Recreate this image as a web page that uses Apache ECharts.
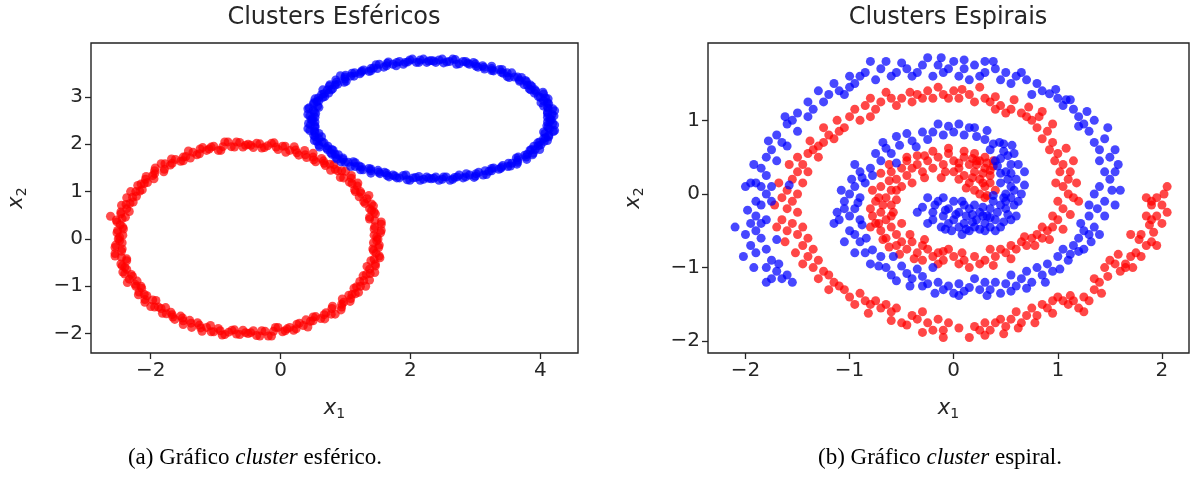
<!DOCTYPE html>
<html><head><meta charset="utf-8">
<script src="https://cdn.jsdelivr.net/npm/echarts@6/dist/echarts.min.js"></script>
<style>html,body{margin:0;padding:0;background:#fff}#c{width:1194px;height:483px}</style>
</head><body><div id="c"></div>
<script>
// ---- Clusters Esféricos ----
const sphereRed = [
[1.50,0.00],[1.44,0.08],[1.55,0.18],[1.45,0.26],[1.55,0.36],[1.37,0.42],[1.46,0.53],[1.40,0.60],[1.43,0.70],[1.30,0.75],[1.33,0.85],[1.21,0.89],[1.23,1.00],[1.14,1.04],[1.19,1.18],[1.06,1.20],[1.09,1.34],[0.92,1.30],[0.94,1.44],[0.84,1.47],[0.82,1.57],[0.69,1.55],[0.66,1.65],[0.54,1.63],[0.50,1.73],[0.40,1.72],[0.37,1.87],[0.25,1.82],[0.21,1.95],[0.08,1.83],[0.03,1.96],[-0.07,1.94],[-0.14,2.02],[-0.25,1.93],[-0.32,2.01],[-0.42,1.93],
[-0.50,2.00],[-0.58,1.94],[-0.68,2.05],[-0.76,1.95],[-0.86,2.05],[-0.92,1.87],[-1.03,1.96],[-1.10,1.90],[-1.20,1.93],[-1.25,1.80],[-1.35,1.83],[-1.39,1.71],[-1.50,1.73],[-1.54,1.64],[-1.68,1.69],[-1.70,1.56],[-1.84,1.59],[-1.80,1.42],[-1.94,1.44],[-1.97,1.34],[-2.07,1.32],[-2.05,1.19],[-2.15,1.16],[-2.13,1.04],[-2.23,1.00],[-2.22,0.90],[-2.37,0.87],[-2.32,0.75],[-2.45,0.71],[-2.33,0.58],[-2.46,0.53],[-2.44,0.43],[-2.52,0.36],[-2.43,0.25],[-2.51,0.18],[-2.43,0.08],
[-2.50,0.00],[-2.44,-0.08],[-2.55,-0.18],[-2.45,-0.26],[-2.55,-0.36],[-2.37,-0.42],[-2.46,-0.53],[-2.40,-0.60],[-2.43,-0.70],[-2.30,-0.75],[-2.33,-0.85],[-2.21,-0.89],[-2.23,-1.00],[-2.14,-1.04],[-2.19,-1.18],[-2.06,-1.20],[-2.09,-1.34],[-1.92,-1.30],[-1.94,-1.44],[-1.84,-1.47],[-1.82,-1.57],[-1.69,-1.55],[-1.66,-1.65],[-1.54,-1.63],[-1.50,-1.73],[-1.40,-1.72],[-1.37,-1.87],[-1.25,-1.82],[-1.21,-1.95],[-1.08,-1.83],[-1.03,-1.96],[-0.93,-1.94],[-0.86,-2.02],[-0.75,-1.93],[-0.68,-2.01],[-0.58,-1.93],
[-0.50,-2.00],[-0.42,-1.94],[-0.32,-2.05],[-0.24,-1.95],[-0.14,-2.05],[-0.08,-1.87],[0.03,-1.96],[0.10,-1.90],[0.20,-1.93],[0.25,-1.80],[0.35,-1.83],[0.39,-1.71],[0.50,-1.73],[0.54,-1.64],[0.68,-1.69],[0.70,-1.56],[0.84,-1.59],[0.80,-1.42],[0.94,-1.44],[0.97,-1.34],[1.07,-1.32],[1.05,-1.19],[1.15,-1.16],[1.13,-1.04],[1.23,-1.00],[1.22,-0.90],[1.37,-0.87],[1.32,-0.75],[1.45,-0.71],[1.33,-0.58],[1.46,-0.53],[1.44,-0.43],[1.52,-0.36],[1.43,-0.25],[1.51,-0.18],[1.43,-0.08],
[1.48,0.04],[1.54,0.13],[1.44,0.21],[1.55,0.31],[1.45,0.39],[1.37,0.46],[1.44,0.57],[1.37,0.64],[1.40,0.74],[1.28,0.79],[1.36,0.92],[1.24,0.96],[1.15,1.00],[1.18,1.12],[1.10,1.17],[1.09,1.28],[0.97,1.29],[1.00,1.43],[0.88,1.44],[0.77,1.45],[0.76,1.58],[0.67,1.60],[0.63,1.70],[0.51,1.67],[0.50,1.81],[0.38,1.78],[0.28,1.77],[0.23,1.88],[0.14,1.87],[0.07,1.96],[-0.04,1.89],[-0.10,2.03],[-0.20,1.97],[-0.29,1.92],[-0.37,2.02],[-0.46,1.98],
[-0.54,1.98],[-0.63,2.04],[-0.71,1.94],[-0.81,2.05],[-0.89,1.95],[-0.96,1.87],[-1.07,1.94],[-1.14,1.87],[-1.24,1.90],[-1.29,1.78],[-1.42,1.86],[-1.46,1.74],[-1.50,1.65],[-1.62,1.68],[-1.67,1.60],[-1.78,1.59],[-1.79,1.47],[-1.93,1.50],[-1.94,1.38],[-1.95,1.27],[-2.08,1.26],[-2.10,1.17],[-2.20,1.13],[-2.17,1.01],[-2.31,1.00],[-2.28,0.88],[-2.27,0.78],[-2.38,0.73],[-2.37,0.64],[-2.46,0.57],[-2.39,0.46],[-2.53,0.40],[-2.47,0.30],[-2.42,0.21],[-2.52,0.13],[-2.48,0.04],
[-2.48,-0.04],[-2.54,-0.13],[-2.44,-0.21],[-2.55,-0.31],[-2.45,-0.39],[-2.37,-0.46],[-2.44,-0.57],[-2.37,-0.64],[-2.40,-0.74],[-2.28,-0.79],[-2.36,-0.92],[-2.24,-0.96],[-2.15,-1.00],[-2.18,-1.12],[-2.10,-1.17],[-2.09,-1.28],[-1.97,-1.29],[-2.00,-1.43],[-1.88,-1.44],[-1.77,-1.45],[-1.76,-1.58],[-1.67,-1.60],[-1.63,-1.70],[-1.51,-1.67],[-1.50,-1.81],[-1.38,-1.78],[-1.28,-1.77],[-1.23,-1.88],[-1.14,-1.87],[-1.07,-1.96],[-0.96,-1.89],[-0.90,-2.03],[-0.80,-1.97],[-0.71,-1.92],[-0.63,-2.02],[-0.54,-1.98],
[-0.46,-1.98],[-0.37,-2.04],[-0.29,-1.94],[-0.19,-2.05],[-0.11,-1.95],[-0.04,-1.87],[0.07,-1.94],[0.14,-1.87],[0.24,-1.90],[0.29,-1.78],[0.42,-1.86],[0.46,-1.74],[0.50,-1.65],[0.62,-1.68],[0.67,-1.60],[0.78,-1.59],[0.79,-1.47],[0.93,-1.50],[0.94,-1.38],[0.95,-1.27],[1.08,-1.26],[1.10,-1.17],[1.20,-1.13],[1.17,-1.01],[1.31,-1.00],[1.28,-0.88],[1.27,-0.78],[1.38,-0.73],[1.37,-0.64],[1.46,-0.57],[1.39,-0.46],[1.53,-0.40],[1.47,-0.30],[1.42,-0.21],[1.52,-0.13],[1.48,-0.04],
[-2.62,0.48]
];
const sphereBlue = [
[2.32,3.77],[2.39,3.73],[2.49,3.80],[2.56,3.74],[2.65,3.80],[2.71,3.69],[2.81,3.75],[2.88,3.71],[2.97,3.73],[3.01,3.65],[3.11,3.66],[3.14,3.59],[3.25,3.60],[3.28,3.55],[3.41,3.58],[3.43,3.50],[3.56,3.51],[3.52,3.41],[3.65,3.42],[3.68,3.36],[3.77,3.35],[3.75,3.26],[3.85,3.25],[3.83,3.17],[3.92,3.15],[3.91,3.08],[4.05,3.06],[4.00,2.99],[4.12,2.96],[4.01,2.88],[4.13,2.85],[4.11,2.79],[4.19,2.75],[4.11,2.68],[4.18,2.63],[4.11,2.57],
[0.47,2.52],[0.53,2.57],[0.42,2.63],[0.52,2.68],[0.42,2.75],[0.59,2.78],[0.51,2.85],[0.56,2.90],[0.53,2.96],[0.65,2.99],[0.63,3.05],[0.74,3.08],[0.72,3.15],[0.80,3.17],[0.76,3.26],[0.88,3.27],[0.85,3.36],[1.01,3.33],[0.99,3.42],[1.08,3.44],[1.10,3.50],[1.22,3.49],[1.25,3.55],[1.36,3.54],[1.39,3.60],[1.49,3.60],[1.52,3.69],[1.63,3.66],[1.66,3.74],[1.78,3.66],[1.83,3.75],[1.92,3.73],[1.99,3.78],[2.09,3.73],[2.15,3.78],[2.25,3.73],
[2.32,1.27],[2.25,1.31],[2.15,1.24],[2.08,1.30],[1.99,1.24],[1.93,1.35],[1.83,1.29],[1.76,1.33],[1.67,1.31],[1.63,1.39],[1.53,1.38],[1.50,1.45],[1.39,1.44],[1.36,1.49],[1.23,1.46],[1.21,1.54],[1.08,1.53],[1.12,1.63],[0.99,1.62],[0.96,1.68],[0.87,1.69],[0.89,1.78],[0.79,1.79],[0.81,1.87],[0.72,1.89],[0.73,1.96],[0.59,1.98],[0.64,2.05],[0.52,2.08],[0.63,2.16],[0.51,2.19],[0.53,2.25],[0.45,2.29],[0.53,2.36],[0.46,2.41],[0.53,2.47],
[4.17,2.52],[4.11,2.47],[4.22,2.41],[4.12,2.36],[4.22,2.29],[4.05,2.26],[4.13,2.19],[4.08,2.14],[4.11,2.08],[3.99,2.05],[4.01,1.99],[3.90,1.96],[3.92,1.89],[3.84,1.87],[3.88,1.78],[3.76,1.77],[3.79,1.68],[3.63,1.71],[3.65,1.62],[3.56,1.60],[3.54,1.54],[3.42,1.55],[3.39,1.49],[3.28,1.50],[3.25,1.44],[3.15,1.44],[3.12,1.35],[3.01,1.38],[2.98,1.30],[2.86,1.38],[2.81,1.29],[2.72,1.31],[2.65,1.26],[2.55,1.31],[2.49,1.26],[2.39,1.31],
[4.15,2.55],[4.21,2.60],[4.11,2.65],[4.22,2.71],[4.12,2.76],[4.05,2.81],[4.11,2.88],[4.05,2.92],[4.08,2.98],[3.97,3.01],[4.04,3.10],[3.93,3.12],[3.85,3.15],[3.87,3.22],[3.80,3.25],[3.79,3.32],[3.68,3.33],[3.71,3.41],[3.60,3.42],[3.49,3.43],[3.49,3.51],[3.40,3.52],[3.37,3.58],[3.25,3.56],[3.25,3.65],[3.13,3.63],[3.04,3.63],[3.00,3.70],[2.91,3.69],[2.85,3.75],[2.75,3.70],[2.69,3.79],[2.60,3.75],[2.51,3.72],[2.44,3.78],[2.36,3.76],
[2.28,3.76],[2.20,3.80],[2.13,3.73],[2.03,3.80],[1.96,3.74],[1.89,3.69],[1.79,3.73],[1.73,3.69],[1.64,3.71],[1.59,3.63],[1.47,3.68],[1.43,3.61],[1.39,3.55],[1.28,3.57],[1.24,3.52],[1.14,3.51],[1.13,3.44],[1.00,3.46],[0.99,3.38],[0.98,3.31],[0.86,3.31],[0.84,3.25],[0.75,3.23],[0.78,3.15],[0.65,3.15],[0.67,3.07],[0.68,3.01],[0.58,2.98],[0.59,2.92],[0.51,2.88],[0.57,2.81],[0.44,2.77],[0.50,2.71],[0.54,2.65],[0.45,2.60],[0.49,2.55],
[0.49,2.49],[0.43,2.44],[0.53,2.39],[0.42,2.33],[0.52,2.28],[0.59,2.23],[0.53,2.16],[0.59,2.12],[0.56,2.06],[0.67,2.03],[0.60,1.94],[0.71,1.92],[0.79,1.89],[0.77,1.82],[0.84,1.79],[0.85,1.72],[0.96,1.71],[0.93,1.63],[1.04,1.62],[1.15,1.61],[1.15,1.53],[1.24,1.52],[1.27,1.46],[1.39,1.48],[1.39,1.39],[1.51,1.41],[1.60,1.41],[1.64,1.34],[1.73,1.35],[1.79,1.29],[1.89,1.34],[1.95,1.25],[2.04,1.29],[2.13,1.32],[2.20,1.26],[2.28,1.28],
[2.36,1.28],[2.44,1.24],[2.51,1.31],[2.61,1.24],[2.68,1.30],[2.75,1.35],[2.85,1.31],[2.91,1.35],[3.00,1.33],[3.05,1.41],[3.17,1.36],[3.21,1.43],[3.25,1.49],[3.36,1.47],[3.40,1.52],[3.50,1.53],[3.51,1.60],[3.64,1.58],[3.65,1.66],[3.66,1.73],[3.78,1.73],[3.80,1.79],[3.89,1.81],[3.86,1.89],[3.99,1.89],[3.97,1.97],[3.96,2.03],[4.06,2.06],[4.05,2.12],[4.13,2.16],[4.07,2.23],[4.20,2.27],[4.14,2.33],[4.10,2.39],[4.19,2.44],[4.15,2.49],
[0.92,3.45]
];
// ---- Clusters Espirais ----
const spiralRed = [
[0.20,0.05],[0.15,0.15],[0.25,0.20],[0.30,0.10],[0.10,0.25],[0.20,0.30],[0.30,0.35],[0.25,0.45],[0.15,0.40],[0.05,0.35],[0.10,0.50],[0.00,0.45],[-0.05,0.55],[-0.10,0.40],[-0.15,0.50],[-0.20,0.35],[-0.25,0.45],[-0.30,0.30],[-0.35,0.40],[-0.40,0.35],[-0.45,0.25],[-0.50,0.35],[-0.55,0.20],[-0.60,0.30],[-0.50,0.10],[-0.60,0.05],[-0.70,0.10],[-0.65,-0.05],[-0.75,-0.10],[-0.60,-0.15],[-0.70,-0.25],[-0.65,-0.35],[-0.75,-0.40],[-0.60,-0.45],[-0.70,-0.50],[-0.55,-0.55],[-0.65,-0.60],[-0.50,-0.65],[-0.55,-0.70],[-0.45,-0.75],[-0.40,-0.65],[-0.35,-0.80],[-0.30,-0.70],[-0.25,-0.75],[-0.20,-0.85],[-0.15,-0.80],[-0.10,-0.90],[0.00,-0.85],[0.05,-0.95],[-0.05,-0.75],[0.35,0.25],[0.40,0.05],[0.30,-0.05],[0.35,0.15],[0.05,0.20],[-0.40,0.15],[-0.78,-0.30],[-0.50,-0.40],[0.30,0.50],[0.20,0.55],
[0.28,0.28],[0.12,0.08],[0.22,0.40],[-0.08,0.30],[-0.28,0.52],[-0.45,0.45],[-0.62,0.40],[-0.55,0.05],[-0.68,-0.15],[-0.80,-0.20],[-0.72,-0.40],[-0.60,-0.30],[-0.62,-0.72],[-0.38,-0.88],[-0.28,-0.62],[-0.10,-0.78],[0.08,-0.80],[0.38,0.38],[0.32,-0.02],[0.18,0.48],
[-0.45,0.50],[-0.35,0.52],[-0.20,0.58],[-0.05,0.62],[0.10,0.58],[0.22,0.45],[0.32,0.42],[0.35,0.32],[0.28,0.15],[0.18,0.22],[0.05,0.42],[-0.12,0.22],[-0.28,0.22],[-0.55,-0.08],[-0.58,-0.25],[-0.72,-0.05],[-0.80,-0.45],[-0.68,-0.62],[-0.52,-0.82],[-0.42,-0.55],[-0.30,-0.90],[-0.15,-0.95],[0.25,0.00],[0.38,0.45],[-0.62,0.18],[-0.70,0.28],[-0.78,0.05],[0.00,0.30],
[0.10,-0.90],[0.20,-0.85],[0.25,-0.95],[0.30,-0.90],[0.40,-0.85],[0.35,-0.75],[0.45,-0.75],[0.50,-0.80],[0.55,-0.70],[0.60,-0.75],[0.65,-0.65],[0.70,-0.70],[0.75,-0.60],[0.80,-0.55],[0.85,-0.60],[0.90,-0.50],[0.95,-0.45],[0.85,-0.45],[1.00,-0.35],[0.95,-0.30],[1.05,-0.20],[1.00,-0.10],[1.10,0.00],[1.05,0.10],[0.98,0.15],[1.10,0.20],[1.02,0.30],[1.05,0.40],[0.97,0.45],[1.00,0.55],[0.92,0.60],[0.95,0.70],[0.85,0.75],[0.90,0.85],[0.80,0.90],[0.75,1.00],[0.70,1.05],[0.82,1.05],[1.15,-0.05],[1.12,0.30],[1.18,0.15],
[0.15,-1.00],[0.38,-0.97],[0.55,-0.88],[0.68,-0.58],[0.78,-0.70],[0.92,-0.62],[1.05,-0.48],[1.12,-0.28],[1.20,-0.10],[1.15,0.45],[1.08,0.62],[0.95,0.95],[0.85,1.12],[0.72,1.18],[0.58,1.28],[0.40,1.32],[0.25,1.45],[0.08,1.42],[-0.15,1.45],[-0.42,1.38],[-0.65,1.38],[-0.80,1.30],[-0.95,1.15],[-1.12,1.00],[-1.25,0.90],[-1.38,0.72],[-1.50,0.50],[-1.58,0.40],[-1.68,0.15],[-1.72,-0.15],[-1.70,-0.45],[-1.62,-0.65],[-1.52,-0.80],[-1.45,-0.95],[-1.30,-1.15],[-1.20,-1.30],[-0.95,-1.50],[-0.82,-1.62],[-0.60,-1.72],[-0.45,-1.78],[-0.30,-1.88],[-0.10,-1.95],[0.05,-1.82],
[0.65,1.10],[0.55,1.15],[0.50,1.10],[0.45,1.20],[0.40,1.15],[0.35,1.25],[0.30,1.30],[0.20,1.25],[0.15,1.35],[0.05,1.30],[0.00,1.40],[-0.05,1.30],[-0.10,1.35],[-0.20,1.30],[-0.25,1.40],[-0.30,1.30],[-0.35,1.35],[-0.40,1.25],[-0.50,1.30],[-0.55,1.20],[-0.60,1.30],[-0.70,1.25],[-0.75,1.15],[-0.80,1.05],[-0.85,1.20],[-0.90,1.00],[-1.00,1.05],[-1.05,0.90],[-1.10,0.85],[-1.15,0.75],[-1.20,0.80],[-1.25,0.70],[-1.30,0.65],[-1.35,0.60],[-1.40,0.55],[-1.30,0.50],[-1.45,0.40],[-1.40,0.30],[-1.50,0.30],[-1.55,0.20],[-1.45,0.15],[-1.60,0.05],[-1.50,0.00],[-1.65,-0.05],[-1.55,-0.10],[-1.60,-0.20],[-1.50,-0.25],[-1.65,-0.35],[-1.55,-0.40],[-1.45,-0.45],[-1.60,-0.50],[-1.50,-0.55],[-1.40,-0.60],[-1.45,-0.70],[-1.35,-0.75],[-1.40,-0.85],[-1.30,-0.90],[-1.35,-1.00],[-1.25,-1.05],[-1.20,-1.10],[-1.15,-1.20],[-1.10,-1.25],[-1.05,-1.30],[-1.00,-1.40],[-0.90,-1.35],[-0.85,-1.45],[-0.80,-1.50],[-0.75,-1.45],[-0.70,-1.55],[-0.65,-1.50],[-0.60,-1.60],[-0.55,-1.55],[-0.50,-1.75],[-0.40,-1.65],[-0.35,-1.70],[-0.30,-1.60],[-0.25,-1.75],[-0.20,-1.85],[-0.15,-1.70],[-0.10,-1.85],[-0.05,-1.75],
[0.15,-1.95],[0.20,-1.80],[0.25,-1.85],[0.30,-1.75],[0.35,-1.85],[0.40,-1.75],[0.45,-1.70],[0.50,-1.80],[0.55,-1.70],[0.60,-1.60],[0.65,-1.75],[0.70,-1.65],[0.75,-1.55],[0.80,-1.65],[0.85,-1.50],[0.90,-1.55],[0.95,-1.45],[1.00,-1.40],[1.05,-1.45],[1.10,-1.50],[1.15,-1.45],[1.20,-1.55],[1.25,-1.40],[1.30,-1.45],[1.35,-1.30],[1.40,-1.20],[1.35,-1.15],[1.45,-1.00],[1.50,-0.90],[1.55,-0.95],[1.60,-1.05],[1.65,-0.95],[1.70,-0.85],[1.75,-0.80],[1.70,-0.55],[1.80,-0.55],[1.85,-0.70],[1.90,-0.65],[1.95,-0.70],[1.85,-0.30],[1.90,-0.35],[1.95,-0.30],[2.00,-0.40],[2.05,-0.25],[1.85,-0.05],[1.90,-0.10],[1.95,-0.05],[2.05,0.10],[1.90,-0.15],[1.65,-1.00],
[0.30,-1.92],[0.48,-1.90],[0.62,-1.82],[0.78,-1.75],[0.95,-1.62],[1.12,-1.38],[1.25,-1.60],[1.42,-1.35],[1.48,-1.12],[1.58,-0.82],[1.72,-1.00],[1.80,-0.85],[1.92,-0.52],[2.00,-0.15],[1.78,-0.62],[1.88,-0.42],[2.02,0.00]
];
const spiralBlue = [
[-0.30,-0.18],[-0.20,-0.25],[-0.15,-0.10],[-0.10,-0.30],[-0.05,-0.20],[0.00,-0.35],[0.05,-0.25],[0.10,-0.40],[0.12,-0.30],[0.15,-0.20],[0.20,-0.45],[0.22,-0.35],[0.25,-0.25],[0.30,-0.40],[0.32,-0.30],[0.35,-0.20],[0.40,-0.35],[0.42,-0.25],[0.45,-0.15],[0.05,-0.45],[-0.05,-0.40],[0.15,-0.50],[0.25,-0.48],[-0.20,-0.35],[-0.10,-0.05],[0.00,-0.10],[0.50,-0.20],[0.48,-0.05],[0.35,-0.45],[0.45,-0.45],[0.55,-0.35],[0.10,-0.15],[-0.25,-0.05],[0.20,-0.15],[0.38,-0.10],[-0.12,-0.45],[0.30,-0.50],[0.60,-0.30],
[-0.35,-0.25],[-0.25,-0.40],[-0.02,-0.50],[0.08,-0.55],[0.18,-0.28],[0.28,-0.18],[0.40,-0.50],[0.52,-0.28],[0.58,-0.15],[0.68,0.12],[0.62,0.40],[0.52,0.52],[0.58,0.55],
[-0.18,-0.15],[-0.08,-0.22],[0.02,-0.28],[0.08,-0.10],[0.18,-0.38],[0.28,-0.30],[0.35,-0.32],[0.48,-0.38],[0.50,-0.10],[0.55,-0.05],[0.58,0.05],[0.52,0.20],[0.45,0.28],[0.55,0.28],[0.40,0.45],[0.35,0.60],[0.48,0.68],[0.12,-0.48],[-0.08,-0.48],[0.38,-0.02],
[0.50,0.00],[0.55,0.10],[0.45,0.15],[0.60,0.20],[0.50,0.30],[0.42,0.38],[0.55,0.40],[0.45,0.48],[0.48,0.58],[0.38,0.68],[0.22,0.78],[0.30,0.74],[0.68,0.30],[0.65,0.00],[0.62,-0.10],
[0.10,0.80],[0.00,0.84],[-0.05,0.92],[-0.10,0.80],[0.05,0.95],[-0.20,0.84],[-0.25,0.74],[-0.30,0.84],[-0.40,0.72],[-0.45,0.82],[-0.52,0.66],[0.15,0.90],[0.32,0.86],[0.44,0.70],[-0.36,0.64],[0.56,0.66],
[0.20,0.90],[-0.15,0.95],[-0.55,0.78],[-0.68,0.70],[-0.75,0.55],[-0.95,0.40],[-1.08,0.05],[-1.12,-0.25],[-1.05,-0.65],[-0.95,-0.80],[-0.72,-0.98],[-0.55,-1.18],[-0.42,-1.25],[-0.18,-1.35],[0.05,-1.38],[0.32,-1.38],[0.55,-1.32],[0.70,-1.28],[0.88,-1.20],[1.02,-1.02],
[-0.60,0.55],[-0.70,0.45],[-0.65,0.62],[-0.80,0.35],[-0.78,0.25],[-0.90,0.30],[-0.85,0.15],[-0.95,0.10],[-1.00,0.00],[-0.90,-0.05],[-1.05,-0.10],[-0.95,-0.20],[-1.00,-0.30],[-1.10,-0.35],[-0.90,-0.35],[-0.88,-0.42],[-1.00,-0.50],[-0.84,-0.60],[-0.90,-0.65],[-0.78,-0.76],[-0.85,-0.80],[-0.70,-0.85],[-0.80,-0.95],[-1.05,-0.20],[-0.98,0.20],[-0.88,0.22],[-0.55,0.42],[-0.92,-0.12],[-0.95,-0.55],[-1.15,-0.40],
[-0.65,-1.00],[-0.60,-1.10],[-0.50,-0.98],[-0.45,-1.08],[-0.40,-1.15],[-0.35,-1.02],[-0.30,-1.12],[-0.25,-1.22],[-0.15,-1.20],[-0.10,-1.30],[-0.05,-1.25],[0.00,-1.35],[0.05,-1.22],[0.15,-1.27],[0.20,-1.15],[0.25,-1.30],[0.30,-1.20],[0.35,-1.30],[0.45,-1.35],[0.40,-1.20],[0.50,-1.22],[0.55,-1.10],[0.60,-1.25],[0.65,-1.15],[0.70,-1.05],[0.75,-1.20],[0.80,-1.00],[0.85,-1.10],[0.90,-0.95],[0.95,-1.05],[-0.58,-0.85],[-0.30,-1.25],[0.10,-1.32],[-0.20,-1.00],
[1.00,-0.85],[1.05,-0.75],[1.10,-0.90],[1.15,-0.70],[1.20,-0.60],[1.25,-0.50],[1.22,-0.40],[1.30,-0.30],[1.35,-0.45],[1.25,-0.75],[1.30,-0.15],[1.35,0.00],[1.40,0.10],[1.45,-0.10],[1.50,0.20],[1.55,0.30],[1.45,0.30],[1.40,0.45],[1.50,0.50],[1.40,0.60],[1.35,0.70],[1.45,0.75],[1.30,0.85],[1.25,0.95],[1.20,1.05],[1.35,1.00],[1.15,1.15],[1.20,0.92],[1.05,1.20],[1.00,1.30],[1.08,1.28],[0.92,1.36],[0.85,1.40],[0.80,1.50],[0.75,1.35],[1.55,-0.15],[1.60,0.05],[1.45,-0.30],[1.30,-0.55],
[1.12,-0.82],[1.20,-0.78],[1.32,-0.65],[1.40,-0.55],[1.38,-0.20],[1.52,0.05],[1.58,0.40],[1.55,0.60],[1.48,0.90],[1.28,1.12],[1.12,1.28],[0.98,1.42],[0.65,1.65],[0.38,1.80],[0.10,1.82],[-0.12,1.85],[-0.50,1.78],[-0.65,1.80],[-1.00,1.60],[-1.15,1.50],[-1.40,1.25],[-1.62,1.05],[-1.78,0.72],[-1.92,0.40],[-2.00,0.10],[-1.98,-0.22],[-2.02,-0.85],[-1.92,-1.00],[-1.68,-0.95],[-1.55,-1.20],[-1.70,-0.62],
[0.70,1.55],[0.60,1.60],[0.50,1.65],[0.45,1.55],[0.40,1.70],[0.30,1.65],[0.20,1.75],[0.25,1.60],[0.10,1.70],[0.05,1.60],[0.00,1.80],[-0.05,1.70],[-0.10,1.65],[-0.15,1.75],[-0.20,1.60],[-0.30,1.75],[-0.35,1.65],[-0.40,1.60],[-0.45,1.70],[-0.55,1.65],[-0.60,1.60],[-0.70,1.70],[-0.75,1.55],[-0.80,1.80],[-0.85,1.65],[-0.95,1.50],[-0.90,1.60],[-1.00,1.45],[-1.05,1.35],[-1.10,1.40],[-1.20,1.35],[-1.30,1.40],[-1.25,1.25],[0.30,1.80],[-0.25,1.85],[0.55,1.50],[0.15,1.55],
[-1.35,1.15],[-1.40,1.05],[-1.50,1.10],[-1.55,1.00],[-1.60,0.95],[-1.50,0.85],[-1.70,0.80],[-1.65,0.70],[-1.75,0.60],[-1.80,0.50],[-1.70,0.45],[-1.85,0.35],[-1.80,0.25],[-1.90,0.15],[-1.95,0.15],[-1.85,0.10],[-1.75,0.10],[-1.80,0.00],[-1.90,-0.10],[-1.85,-0.15],[-1.75,-0.10],[-1.90,-0.30],[-1.95,-0.40],[-1.85,-0.40],[-1.80,-0.35],[-1.90,-0.50],[-1.85,-0.60],[-1.95,-0.70],[-1.80,-0.75],[-1.90,-0.80],[-1.75,-0.90],[-1.80,-1.00],[-1.70,-1.05],[-1.60,-1.10],[-1.65,-1.15],[-1.75,-1.15],[-1.80,-1.20],[-2.10,-0.45],[-2.00,-0.55],[-1.60,0.65],[-1.58,0.12]
];
// ---- ticks and texts ----
const sphereXTicks = [-2, 0, 2, 4];
const sphereYTicks = [-2, -1, 0, 1, 2, 3];
const spiralXTicks = [-2, -1, 0, 1, 2];
const spiralYTicks = [-2, -1, 0, 1];
const plotTitles = ['Clusters Esféricos', 'Clusters Espirais'];
const captions = ['(a) Gráfico {i|cluster} esférico.', '(b) Gráfico {i|cluster} espiral.'];

const fmt = v => (v < 0 ? '\u2212' : '') + Math.abs(v);
const tickColor = '#262626';
const labelFont = 'DejaVu Sans';
function mkX(gi, min, max, ticks) {
  return {type:'value', gridIndex:gi, min:min, max:max,
    splitLine:{show:false}, axisLine:{show:false, onZero:false},
    axisTick:{show:true, customValues:ticks, length:6, lineStyle:{color:tickColor, width:1.3}},
    axisLabel:{customValues:ticks, formatter:fmt, color:tickColor, fontSize:20, fontFamily:labelFont, margin:8},
    name:'{i|x}{s|1}', nameLocation:'middle', nameGap:44,
    nameTextStyle:{color:tickColor, rich:{i:{fontStyle:'italic', fontSize:21, fontFamily:labelFont, color:tickColor}, s:{fontSize:14, fontFamily:labelFont, color:tickColor, padding:[10,0,0,0]}}}};
}
function mkY(gi, min, max, ticks, gap) {
  return {type:'value', gridIndex:gi, min:min, max:max,
    splitLine:{show:false}, axisLine:{show:false, onZero:false},
    axisTick:{show:true, customValues:ticks, length:6, lineStyle:{color:tickColor, width:1.3}},
    axisLabel:{customValues:ticks, formatter:fmt, color:tickColor, fontSize:20, fontFamily:labelFont, margin:8},
    name:'{i|x}{s|2}', nameLocation:'middle', nameGap:gap, nameRotate:90,
    nameTextStyle:{color:tickColor, rich:{i:{fontStyle:'italic', fontSize:21, fontFamily:labelFont, color:tickColor}, s:{fontSize:14, fontFamily:labelFont, color:tickColor, padding:[10,0,0,0]}}}};
}
const mk = (name, xi, data, color, size, op) => ({type:'scatter', name:name, xAxisIndex:xi, yAxisIndex:xi, data:data,
  symbolSize:size, itemStyle:{color:color, opacity:op}, silent:true});

const chart = echarts.init(document.getElementById('c'), null, {renderer:'canvas'});
chart.setOption({
  animation:false,
  backgroundColor:'#fff',
  title:[
    {text:plotTitles[0], left:334, top:6, textAlign:'center', padding:0, textStyle:{fontFamily:labelFont, fontWeight:'normal', fontSize:24, color:tickColor}},
    {text:plotTitles[1], left:948, top:6, textAlign:'center', padding:0, textStyle:{fontFamily:labelFont, fontWeight:'normal', fontSize:24, color:tickColor}},
    {text:captions[0], left:255, top:446, textAlign:'center', padding:0, textStyle:{fontFamily:'Liberation Serif', fontWeight:'normal', fontSize:23, color:'#000', rich:{i:{fontStyle:'italic', fontFamily:'Liberation Serif', fontSize:23, color:'#000'}}}},
    {text:captions[1], left:940, top:446, textAlign:'center', padding:0, textStyle:{fontFamily:'Liberation Serif', fontWeight:'normal', fontSize:23, color:'#000', rich:{i:{fontStyle:'italic', fontFamily:'Liberation Serif', fontSize:23, color:'#000'}}}}
  ],
  grid:[
    {left:91, top:43, width:487, height:310, show:true, borderColor:'#222', borderWidth:1.4, backgroundColor:'transparent', containLabel:false},
    {left:708, top:43, width:481, height:310, show:true, borderColor:'#222', borderWidth:1.4, backgroundColor:'transparent', containLabel:false}
  ],
  xAxis:[mkX(0, -2.92, 4.58, sphereXTicks), mkX(1, -2.36, 2.26, spiralXTicks)],
  yAxis:[mkY(0, -2.41, 4.14, sphereYTicks, 62), mkY(1, -2.16, 2.05, spiralYTicks, 62)],
  series:[
    mk('red', 0, sphereRed, '#ff0000', 9, 0.7),
    mk('blue', 0, sphereBlue, '#0000ff', 9, 0.7),
    mk('red', 1, spiralRed, '#ff0000', 9, 0.72),
    mk('blue', 1, spiralBlue, '#0000ff', 9, 0.72)
  ]
});
</script></body></html>
